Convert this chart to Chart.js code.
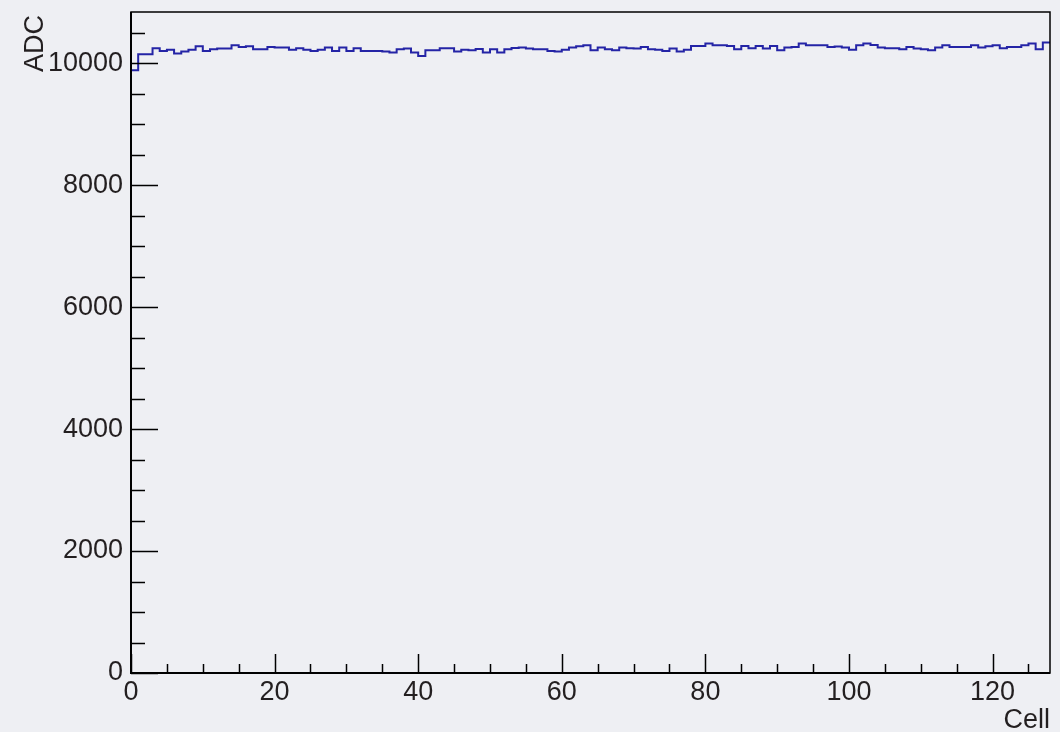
<!DOCTYPE html>
<html>
<head>
<meta charset="utf-8">
<script src="https://cdn.jsdelivr.net/npm/chart.js@4.4.1/dist/chart.umd.min.js"></script>
<style>
  html, body { margin: 0; padding: 0; background: #eeeff3; }
  #wrap { width: 1060px; height: 732px; }
</style>
</head>
<body>
<div id="wrap"><canvas id="histo" width="1060" height="732"></canvas></div>
<script>
// ADC per cell, 128 bins (cell 0..127)
const adcValues = [
  9885, 10148, 10148, 10246, 10202, 10219, 10159, 10191, 10219, 10279,
  10202, 10230, 10241, 10241, 10295, 10268, 10279, 10230, 10230, 10268,
  10257, 10257, 10219, 10246, 10219, 10202, 10219, 10257, 10202, 10257,
  10202, 10246, 10202, 10202, 10202, 10191, 10175, 10230, 10241, 10175,
  10120, 10213, 10213, 10246, 10246, 10191, 10219, 10213, 10235, 10175,
  10230, 10175, 10230, 10251, 10257, 10241, 10230, 10230, 10202, 10191,
  10219, 10257, 10279, 10295, 10213, 10257, 10230, 10213, 10257, 10246,
  10241, 10268, 10230, 10219, 10202, 10241, 10191, 10219, 10284, 10284,
  10322, 10295, 10295, 10284, 10230, 10284, 10246, 10284, 10241, 10284,
  10213, 10257, 10268, 10322, 10295, 10295, 10295, 10268, 10273, 10257,
  10219, 10295, 10322, 10300, 10257, 10246, 10246, 10230, 10268, 10240,
  10230, 10213, 10257, 10295, 10268, 10268, 10268, 10295, 10257, 10279,
  10295, 10246, 10268, 10268, 10295, 10322, 10230, 10339
];
const xTicks = [0, 20, 40, 60, 80, 100, 120];
const yTicks = [0, 2000, 4000, 6000, 8000, 10000];
const xMinorStep = 5;
const yMinorStep = 500;
const xRange = [0, 128];
const yRange = [0, 10840];

// bin left edges + closing edge, drawn as a step line
const points = adcValues.map((v, i) => ({ x: i, y: v }));
points.push({ x: adcValues.length, y: adcValues[adcValues.length - 1] });

const textColor = '#231f20';
const fontFamily = '"Liberation Sans", Arial, Helvetica, sans-serif';
const fontSize = 27;

// ROOT style frame: inward ticks + axis titles
const frameTicks = {
  id: 'frameTicks',
  beforeDraw(chart) {
    const ctx = chart.ctx;
    ctx.save();
    ctx.fillStyle = '#eeeff3';
    ctx.fillRect(0, 0, chart.width, chart.height);
    ctx.restore();
  },
  afterDraw(chart) {
    const ctx = chart.ctx;
    const a = chart.chartArea;
    const xs = chart.scales.x, ys = chart.scales.y;
    ctx.save();
    ctx.strokeStyle = '#000';
    ctx.lineWidth = 1.5;
    ctx.strokeRect(a.left, a.top, a.right - a.left, a.bottom - a.top);
    ctx.lineWidth = 2;
    ctx.beginPath();
    ctx.moveTo(a.left, a.top); ctx.lineTo(a.left, a.bottom); ctx.lineTo(a.right, a.bottom);
    ctx.stroke();

    ctx.lineWidth = 1.5;
    ctx.beginPath();
    for (let v = yRange[0]; v <= yRange[1]; v += yMinorStep) {
      const py = Math.round(ys.getPixelForValue(v)) + 0.5;
      const len = yTicks.includes(v) ? 27 : 14;
      ctx.moveTo(a.left, py); ctx.lineTo(a.left + len, py);
    }
    for (let v = xRange[0]; v <= xRange[1]; v += xMinorStep) {
      const px = Math.round(xs.getPixelForValue(v)) + 0.5;
      const len = xTicks.includes(v) ? 19 : 9;
      ctx.moveTo(px, a.bottom); ctx.lineTo(px, a.bottom - len);
    }
    ctx.stroke();

    ctx.fillStyle = textColor;
    ctx.font = fontSize + 'px ' + fontFamily;
    ctx.textAlign = 'right';
    ctx.textBaseline = 'alphabetic';
    ctx.fillText('Cell', a.right, 728);
    ctx.translate(43, 15);
    ctx.rotate(-Math.PI / 2);
    ctx.fillText('ADC', 0, 0);
    ctx.restore();
  }
};

new Chart(document.getElementById('histo').getContext('2d'), {
  type: 'line',
  data: {
    datasets: [{
      label: 'ADC',
      data: points,
      stepped: true,
      borderColor: '#2424a6',
      borderWidth: 2,
      pointRadius: 0,
      fill: false
    }]
  },
  options: {
    responsive: false,
    animation: false,
    layout: { padding: { top: 12, right: 10, left: 0, bottom: 0 } },
    plugins: { legend: { display: false }, tooltip: { enabled: false } },
    scales: {
      x: {
        type: 'linear',
        min: xRange[0],
        max: xRange[1],
        grid: { display: false, drawTicks: false },
        border: { display: false },
        afterBuildTicks: s => { s.ticks = xTicks.map(v => ({ value: v })); },
        afterFit: s => { s.height = 59; s.paddingLeft = 0; s.paddingRight = 0; },
        ticks: {
          padding: 3,
          maxRotation: 0,
          autoSkip: false,
          color: textColor,
          font: { family: fontFamily, size: fontSize },
          callback: v => String(v)
        }
      },
      y: {
        type: 'linear',
        min: yRange[0],
        max: yRange[1],
        grid: { display: false, drawTicks: false },
        border: { display: false },
        afterBuildTicks: s => { s.ticks = yTicks.map(v => ({ value: v })); },
        afterFit: s => { s.width = 131; s.paddingTop = 0; s.paddingBottom = 0; },
        ticks: {
          padding: 8,
          color: textColor,
          font: { family: fontFamily, size: fontSize },
          callback: v => String(v)
        }
      }
    }
  },
  plugins: [frameTicks]
});
</script>
</body>
</html>
